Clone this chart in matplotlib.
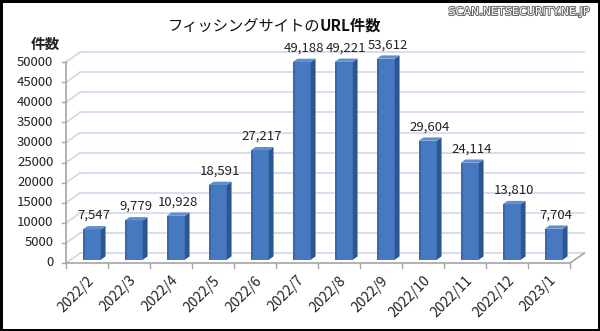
import matplotlib.pyplot as plt
import matplotlib.patheffects as pe
from matplotlib.patches import Polygon
import numpy as np

plt.rcParams['font.family'] = ['Noto Sans CJK JP', 'DejaVu Sans']

# monthly number of phishing site URLs
months = ['2022/2', '2022/3', '2022/4', '2022/5', '2022/6', '2022/7',
          '2022/8', '2022/9', '2022/10', '2022/11', '2022/12', '2023/1']
counts = [7547, 9779, 10928, 18591, 27217, 49188,
          49221, 53612, 29604, 24114, 13810, 7704]
yticks = list(range(0, 50001, 5000))

ymax = 50000
W, H = 600, 331
fig = plt.figure(figsize=(W / 100, H / 100), dpi=100)
fig.patch.set_edgecolor('black')
fig.patch.set_linewidth(2.5)

# front plane of the 3d box
ax = fig.add_axes([66 / W, (H - 263) / H, (570 - 66) / W, (263 - 62) / H])
ax.set_xlim(-0.5, len(months) - 0.5)
ax.set_ylim(0, ymax)
ax.axis('off')

# depth of the box in data units
dx = 0.34
dy = 2450
x0, x1 = -0.5, len(months) - 0.5
grid_c = '#d3d6ec'
axis_c = '#a6a6a6'

# back wall grid, left wall diagonals
for t in yticks:
    ax.plot([x0 + dx, x1 + dx], [t + dy, t + dy], color=grid_c, lw=1.2,
            clip_on=False, zorder=1)
    ax.plot([x0, x0 + dx], [t, t + dy], color=grid_c, lw=1.2,
            clip_on=False, zorder=1)
    ax.plot([x0 - 0.09, x0], [t, t], color=axis_c, lw=1, clip_on=False)
    ax.text(x0 - 0.3, t, str(t), ha='right', va='center', fontsize=9.5,
            color='#222222')

# floor and front axis
ax.plot([x0, x1, x1 + dx], [0, 0, dy], color=axis_c, lw=1.2, clip_on=False)
ax.plot([x0, x0], [0, ymax], color=axis_c, lw=1.2, clip_on=False)
for i in range(len(months) + 1):
    ax.plot([x0 + i, x0 + i], [0, -1300], color=axis_c, lw=1, clip_on=False)

# bars with side and top faces
bw = 0.43
front = '#4679c0'
edge = '#3a67a8'
side = '#2c568f'
top = '#5f8fd0'
fx, fy = dx / 3, dy / 3
sx, sy = dx / 3, dy / 3
for i, v in enumerate(counts):
    h = min(v, ymax)
    l = i - bw / 2 + fx
    r = i + bw / 2 + fx
    b = fy
    tp = h + fy
    ax.add_patch(Polygon([(l, b), (r, b), (r, tp), (l, tp)], closed=True,
                         facecolor=front, edgecolor='none', clip_on=False,
                         zorder=3))
    # slightly darker left edge of the front face
    ax.add_patch(Polygon([(l, b), (l + 0.05, b), (l + 0.05, tp), (l, tp)],
                         closed=True, facecolor=edge, edgecolor='none',
                         clip_on=False, zorder=3))
    ax.add_patch(Polygon([(r, b), (r + sx, b + sy), (r + sx, tp + sy),
                          (r, tp)], closed=True, facecolor=side,
                         edgecolor='none', clip_on=False, zorder=3))
    ax.add_patch(Polygon([(l, tp), (r, tp), (r + sx, tp + sy),
                          (l + sx, tp + sy)], closed=True, facecolor=top,
                         edgecolor='none', clip_on=False, zorder=3))
    ax.annotate(f'{v:,}', (i + fx + sx / 2, tp + sy), xytext=(0, 3),
                textcoords='offset points', ha='center', va='bottom',
                fontsize=9.5, color='#222222', annotation_clip=False)
    ax.annotate(months[i], (i + 0.12, 0), xytext=(0, -11),
                textcoords='offset points', ha='right', va='center',
                rotation=45, rotation_mode='anchor', fontsize=10,
                color='#222222', annotation_clip=False)

fig.text(45 / W, 1 - 44 / H, '件数', ha='center', va='center',
         fontsize=10.5, fontweight='bold', color='#222222')

# title: plain part then bold part
fig.text(320 / W, 1 - 26 / H, 'フィッシングサイトの', ha='right',
         va='center', fontsize=11, color='#111111')
fig.text(320 / W, 1 - 26 / H, 'URL件数', ha='left', va='center',
         fontsize=11, fontweight='bold', color='#111111')

fig.text(590 / W, 1 - 12 / H, 'SCAN.NETSECURITY.NE.JP', ha='right',
         va='center', fontsize=8, color='white', family='DejaVu Sans',
         path_effects=[pe.withStroke(linewidth=1.4, foreground='#666666')])

fig.savefig('out.png', dpi=100, edgecolor=fig.get_edgecolor())
